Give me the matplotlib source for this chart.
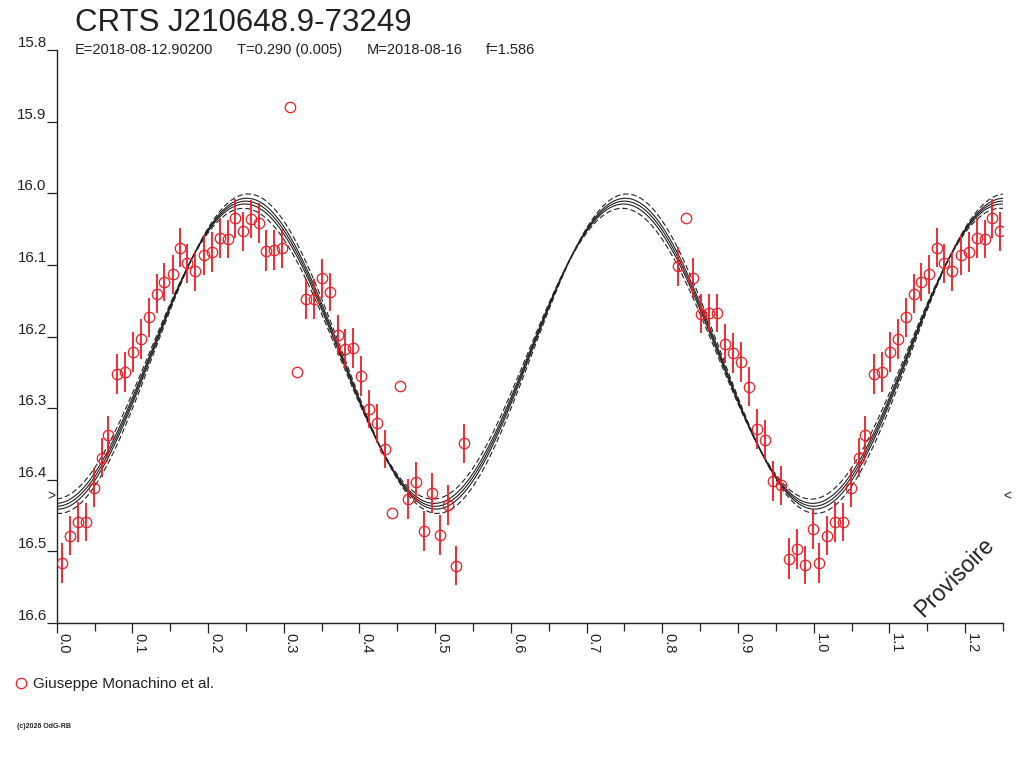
import numpy as np
import matplotlib
matplotlib.use("Agg")
import matplotlib.pyplot as plt
from matplotlib.ticker import MultipleLocator, FormatStrFormatter

plt.rcParams['font.family'] = ['Liberation Sans', 'DejaVu Sans']
plt.rcParams['lines.scale_dashes'] = False

# ---- data ----
title = "CRTS J210648.9-73249"
info_texts = ["E=2018-08-12.90200", "T=0.290 (0.005)", "M=2018-08-16", "f=1.586"]
legend_label = "Giuseppe Monachino et al."

phase = [0.0066, 0.0176, 0.0277, 0.0383, 0.0489, 0.0594, 0.068, 0.080, 0.090, 0.101,
         0.111, 0.1215, 0.132, 0.142, 0.153, 0.163, 0.1725, 0.183, 0.194, 0.205,
         0.216, 0.226, 0.2355, 0.2465, 0.257, 0.267, 0.277, 0.2875, 0.298, 0.308,
         0.317, 0.329, 0.340, 0.3505, 0.361, 0.371, 0.381, 0.392, 0.402, 0.4126,
         0.4227, 0.4337, 0.4434, 0.4535, 0.464, 0.4746, 0.4852, 0.4958, 0.5063, 0.5169,
         0.5275, 0.538, 0.8207, 0.831, 0.841, 0.8515, 0.862, 0.8727, 0.883, 0.8938,
         0.904, 0.915, 0.925, 0.9357, 0.946, 0.957, 0.9674, 0.9775, 0.988, 0.9987]
mag = [16.516, 16.478, 16.459, 16.459, 16.411, 16.369, 16.338, 16.252, 16.249, 16.222,
       16.204, 16.173, 16.140, 16.124, 16.113, 16.076, 16.098, 16.109, 16.086, 16.082,
       16.063, 16.064, 16.035, 16.053, 16.036, 16.042, 16.080, 16.079, 16.077, 15.880,
       16.250, 16.148, 16.148, 16.119, 16.138, 16.198, 16.218, 16.216, 16.255, 16.301,
       16.321, 16.357, 16.446, 16.269, 16.427, 16.403, 16.472, 16.418, 16.477, 16.435,
       16.520, 16.349, 16.102, 16.035, 16.118, 16.168, 16.167, 16.167, 16.210, 16.223,
       16.236, 16.270, 16.329, 16.345, 16.402, 16.408, 16.510, 16.497, 16.519, 16.469]
err = [0.028, 0.027, 0.028, 0.027, 0.027, 0.027, 0.027, 0.028, 0.028, 0.028,
       0.028, 0.027, 0.027, 0.027, 0.027, 0.027, 0.027, 0.027, 0.028, 0.028,
       0.028, 0.027, 0.027, 0.027, 0.027, 0.028, 0.028, 0.028, 0.027, 0.0,
       0.0, 0.028, 0.028, 0.027, 0.027, 0.028, 0.028, 0.028, 0.028, 0.027,
       0.027, 0.027, 0.0, 0.0, 0.028, 0.028, 0.028, 0.028, 0.028, 0.028,
       0.027, 0.027, 0.027, 0.0, 0.028, 0.027, 0.027, 0.027, 0.027, 0.028,
       0.028, 0.027, 0.028, 0.028, 0.028, 0.027, 0.028, 0.028, 0.027, 0.028]

# fitted light-curve model parameters (mean, semi-amplitude, phase of max light)
fit_mean = 16.224
fit_amp = 0.213
fit_max_phase = 0.25
fit_band_amp_solid = 0.004
fit_band_amp_dashed = 0.010
fit_band_shift = 0.003
mean_marker_mag = 16.423

x_ticks = [0.0, 0.1, 0.2, 0.3, 0.4, 0.5, 0.6, 0.7, 0.8, 0.9, 1.0, 1.1, 1.2]
y_ticks = [15.8, 15.9, 16.0, 16.1, 16.2, 16.3, 16.4, 16.5, 16.6]

# ---- figure ----
W, H = 1024, 768
fig = plt.figure(figsize=(W / 100, H / 100), dpi=100)
ax_left, ax_right, ax_top, ax_bot = 56.7, 1002.9, 50.0, 623.0
ax = fig.add_axes([ax_left / W, 1 - ax_bot / H, (ax_right - ax_left) / W, (ax_bot - ax_top) / H])
ax.set_xlim(0, 1.25)
ax.set_ylim(16.6, 15.8)

dark = '#222222'
red = '#ee1c24'

# model curves
xs = np.linspace(0, 1.25, 1200)
def model(x, amp, shift):
    return fit_mean - amp * np.cos(4 * np.pi * (x - fit_max_phase - shift))
ax.plot(xs, model(xs, fit_amp, 0), color=dark, lw=0.8)
ax.plot(xs, model(xs, fit_amp + fit_band_amp_solid, 0.0012), color=dark, lw=0.8)
ax.plot(xs, model(xs, fit_amp - fit_band_amp_solid, -0.0012), color=dark, lw=0.8)
ax.plot(xs, model(xs, fit_amp + fit_band_amp_dashed, fit_band_shift), color=dark, lw=0.8,
        linestyle=(0, (4, 2)))
ax.plot(xs, model(xs, fit_amp - fit_band_amp_dashed, -fit_band_shift), color=dark, lw=0.8,
        linestyle=(0, (4, 2)))

# observations (phases < 0.25 repeated after 1.0)
ph = np.array(phase)
mg = np.array(mag)
er = np.array(err)
rep = ph + 1 <= 1.25
ph_all = np.concatenate([ph, ph[rep] + 1])
mg_all = np.concatenate([mg, mg[rep]])
er_all = np.concatenate([er, er[rep]])
has = er_all > 0
ax.vlines(ph_all[has], mg_all[has] - er_all[has], mg_all[has] + er_all[has], color=red, lw=1.3,
          zorder=3)
ax.plot(ph_all, mg_all, 'o', mfc='none', mec=red, ms=7.5, mew=0.9, zorder=4)

# mean markers
ax.text(-0.001, mean_marker_mag, '>', transform=ax.get_yaxis_transform(), ha='right', va='center',
        fontsize=10, color=dark)
ax.text(1.001, mean_marker_mag, '<', transform=ax.get_yaxis_transform(), ha='left', va='center',
        fontsize=10, color=dark)

# axes style
for s in ['top', 'right']:
    ax.spines[s].set_visible(False)
for s in ['left', 'bottom']:
    ax.spines[s].set_color(dark)
    ax.spines[s].set_linewidth(1.0)

ax.set_xticks(x_ticks)
ax.xaxis.set_minor_locator(MultipleLocator(0.05))
ax.xaxis.set_major_formatter(FormatStrFormatter('%.1f'))
ax.set_yticks(y_ticks)
ax.yaxis.set_major_formatter(FormatStrFormatter('%.1f'))
ax.tick_params(axis='x', which='major', direction='out', length=7.2, width=0.9, color=dark,
               pad=0, labelsize=10.5, labelcolor=dark)
ax.tick_params(axis='x', which='minor', direction='out', length=6.0, width=0.9, color=dark)
ax.tick_params(axis='y', which='major', direction='out', length=7.2, width=0.9, color=dark,
               pad=0, labelsize=10.8, labelcolor=dark)
for lab in ax.get_xticklabels():
    lab.set_rotation(270)
    lab.set_ha('left')
    lab.set_va('top')
for lab in ax.get_yticklabels():
    lab.set_va('bottom')
    lab.set_ha('right')

# titles
fig.text(75 / W, 1 - 31 / H, title, fontsize=22.5, color=dark, ha='left', va='baseline')
for xpix, t in zip([75, 237, 367, 486], info_texts):
    fig.text(xpix / W, 1 - 54 / H, t, fontsize=10.5, color=dark, ha='left', va='baseline')

# watermark
fig.text(955 / W, 1 - 577 / H, 'Provisoire', fontsize=16.5, color=dark, rotation=45,
         ha='center', va='center', rotation_mode='anchor')

# legend
fig.add_artist(plt.Line2D([20.7 / W], [1 - 683 / H], marker='o', mfc='none', mec=red, ms=7.5,
                          mew=0.9, transform=fig.transFigure))
fig.text(33 / W, 1 - 688 / H, legend_label, fontsize=11, color=dark, ha='left', va='baseline')

# copyright
fig.text(17 / W, 1 - 728 / H, '(c)2026 OdG-RB', fontsize=5, color=dark, ha='left', va='baseline',
         fontweight='bold')

fig.savefig('out.png', dpi=100)
